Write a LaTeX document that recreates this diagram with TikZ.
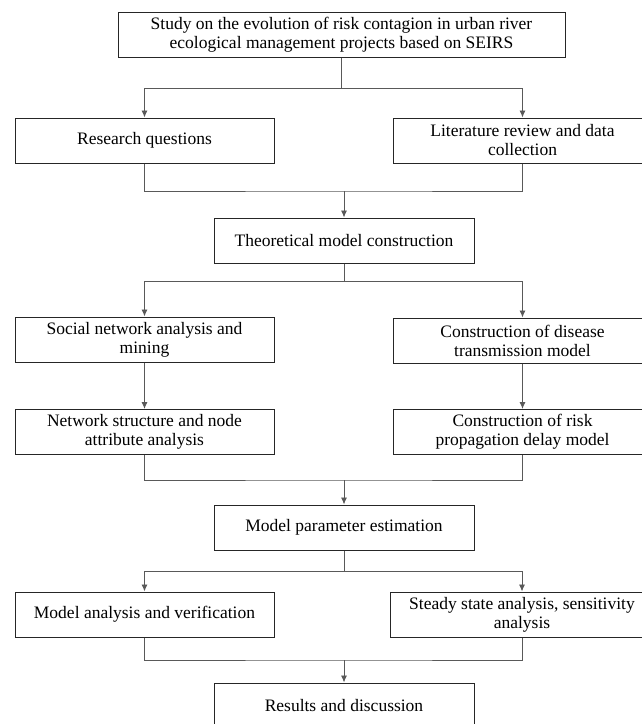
\documentclass[tikz,border=0pt]{standalone}
\usepackage{fontspec}
\setmainfont{Liberation Serif}
\usepackage{tikz}
\usetikzlibrary{arrows.meta}

\begin{document}
\begin{tikzpicture}[x=1pt, y=-1pt,
        box/.style={draw=black!85, line width=1pt, align=center, minimum height=45pt, font=\fontsize{17.5}{19}\selectfont, inner sep=0pt},
        wide/.style={box, minimum width=259pt},
        mid/.style={box, minimum width=260pt},
        link/.style={draw=black!65, line width=0.9pt},
        arr/.style={link, -{Latex[length=7pt,width=6pt]}}]
        \useasboundingbox (0,0) rectangle (642,724);
        \node[box, minimum width=447pt] (top) at (341.5,34.5) {Study on the evolution of risk contagion in urban river\\ecological management projects based on SEIRS};
        \node[wide] (rq) at (144.5,140.5) {Research questions};
        \node[wide] (lit) at (522.5,140.5) {Literature review and data\\collection};
        \node[mid] (theo) at (344,240.5) {Theoretical model construction};
        \node[wide] (soc) at (144.5,339.5) {Social network analysis and\\mining};
        \node[wide] (dis) at (522.5,340.5) {Construction of disease\\transmission model};
        \node[wide] (net) at (144.5,432) {Network structure and node\\attribute analysis};
        \node[wide] (risk) at (522.5,432) {Construction of risk\\propagation delay model};
        \node[mid] (par) at (344,527.5) {Model parameter estimation};
        \node[wide] (ana) at (144.5,614.5) {Model analysis and verification};
        \node[box, minimum width=264pt] (sens) at (522,614.5) {Steady state analysis, sensitivity\\analysis};
        \node[mid] (res) at (344,705.5) {Results and discussion};
        \coordinate (j1) at (341.5,88);
        \coordinate (j2) at (344,191);
        \coordinate (j3) at (344,281);
        \coordinate (j4) at (344,480);
        \coordinate (j5) at (344,571);
        \coordinate (j6) at (344,660);
        \draw[link] (top.south) -- (j1);
        \draw[arr] (j1) -| (rq.north);
        \draw[arr] (j1) -| (lit.north);
        \draw[link] (rq.south) |- (j2) -| (lit.south);
        \draw[arr] (j2) -- (theo.north);
        \draw[link] (theo.south) -- (j3);
        \draw[arr] (j3) -| (soc.north);
        \draw[arr] (j3) -| (dis.north);
        \draw[arr] (soc) -- (net);
        \draw[arr] (dis) -- (risk);
        \draw[link] (net.south) |- (j4) -| (risk.south);
        \draw[arr] (j4) -- (par.north);
        \draw[link] (par.south) -- (j5);
        \draw[arr] (j5) -| (ana.north);
        \draw[arr] (j5) -| (sens.north);
        \draw[link] (ana.south) |- (j6) -| (sens.south);
        \draw[arr] (j6) -- (res.north);
    \end{tikzpicture}
\end{document}
